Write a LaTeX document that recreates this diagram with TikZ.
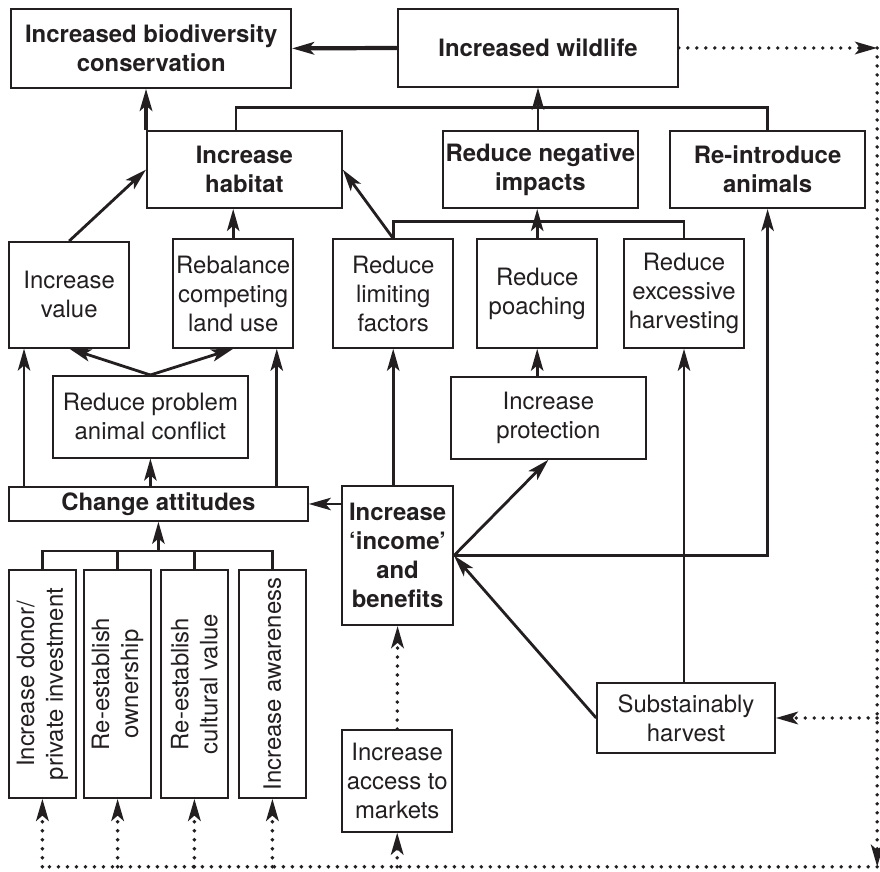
\documentclass[tikz,border=0pt]{standalone}
\usepackage{fontspec}
\setmainfont{TeX Gyre Heros}
\usetikzlibrary{arrows.meta,calc}
\definecolor{CdInk}{RGB}{35,31,32}
\tikzset{
  cd/box/.style={
    draw=CdInk,
    line width=1.1pt,
    fill=white,
    align=center,
    text=CdInk,
    inner sep=2pt,
    font=\fontsize{17}{20.6}\selectfont
  },
  cd/goal/.style={cd/box, font=\fontsize{17}{20.6}\selectfont\bfseries},
  cd/upright/.style={cd/box, rotate=90, minimum width=5.7cm, minimum height=1.68cm},
  cd/arrow/.style={-{Stealth[length=5.5mm,width=3.1mm,inset=1.3mm]}, line width=2pt, draw=CdInk},
  cd/bigarrow/.style={cd/arrow, line width=3pt},
  cd/line/.style={line width=2pt, draw=CdInk},
  cd/dotline/.style={line width=2.8pt, draw=CdInk, line cap=round, dash pattern=on 0pt off 6.4pt},
  cd/dotarrow/.style={cd/dotline, -{Stealth[length=5.5mm,width=3.1mm,inset=1.3mm]}}
}
\begin{document}
\begin{tikzpicture}[x=1cm,y=1cm]
  \useasboundingbox (0,0) rectangle (22,21.8);
  % goals
  \node[cd/goal,minimum width=7cm,minimum height=1.98cm] (biod) at (3.78,20.59) {Increased biodiversity\\conservation};
  \node[cd/goal,minimum width=7cm,minimum height=1.95cm] (wildlife) at (13.45,20.6) {Increased wildlife};
  \node[cd/goal,minimum width=4.88cm,minimum height=1.93cm] (habitat) at (6.11,17.56) {Increase\\habitat};
  \node[cd/goal,minimum width=4.88cm,minimum height=1.93cm] (negimp) at (13.51,17.56) {Reduce negative\\impacts};
  \node[cd/goal,minimum width=4.88cm,minimum height=1.93cm] (reintro) at (19.19,17.56) {Re-introduce\\animals};
  % second row
  \node[cd/box,minimum width=3cm,minimum height=2.65cm] (value) at (1.73,14.43) {Increase\\value};
  \node[cd/box,minimum width=3cm,minimum height=2.72cm] (rebal) at (5.83,14.46) {Rebalance\\competing\\land use};
  \node[cd/box,minimum width=3cm,minimum height=2.72cm] (limit) at (9.83,14.46) {Reduce\\limiting\\factors};
  \node[cd/box,minimum width=3cm,minimum height=2.72cm] (poach) at (13.43,14.46) {Reduce\\poaching};
  \node[cd/box,minimum width=3cm,minimum height=2.72cm] (excess) at (17.1,14.46) {Reduce\\excessive\\harvesting};
  \node[cd/box,minimum width=4.88cm,minimum height=2.05cm] (conflict) at (3.76,11.38) {Reduce problem\\animal conflict};
  \node[cd/box,minimum width=4.88cm,minimum height=2.05cm] (protect) at (13.71,11.35) {Increase\\protection};
  \node[cd/goal,minimum width=7.48cm,minimum height=0.85cm] (attitude) at (3.96,9.2) {Change attitudes};
  \node[cd/goal,minimum width=2.78cm,minimum height=3.48cm] (income) at (9.94,7.91) {Increase\\‘income’\\and\\benefits};
  % drivers
  \node[cd/upright] (donor) at (1.06,4.7) {Increase donor/\\private investment};
  \node[cd/upright] (owner) at (2.94,4.7) {Re-establish\\ownership};
  \node[cd/upright] (culture) at (4.86,4.7) {Re-establish\\cultural value};
  \node[cd/upright] (aware) at (6.81,4.7) {Increase awareness};
  \node[cd/box,minimum width=4.45cm,minimum height=1.75cm] (sustain) at (17.15,3.85) {Substainably\\harvest};
  \node[cd/box,minimum width=2.75cm,minimum height=2.55cm] (access) at (9.93,2.28) {Increase\\access to\\markets};

  % top links
  \draw[cd/bigarrow] (wildlife.west) -- (biod.east);
  \draw[cd/bigarrow] (habitat.north west) -- (habitat.north west |- biod.south);
  \draw[cd/line] ($(habitat.north)+(-0.21,0)$) -- ++(0,0.575) -| (reintro.north);
  \draw[cd/arrow] (wildlife.south |- negimp.north) -- (wildlife.south);
  \draw[cd/arrow] (value.north) -- (habitat.west);
  \draw[cd/arrow] (rebal.north) -- (rebal.north |- habitat.south);
  \draw[cd/arrow] (limit.north) -- (habitat.east);
  \draw[cd/line] (limit.north) -- ++(0,0.425) -| (excess.north);
  \draw[cd/arrow] (poach.north) -- (poach.north |- negimp.south);

  % middle links
  \coordinate (attL) at ($(attitude.north west)+(0.4,0)$);
  \coordinate (attR) at ($(attitude.north east)+(-0.8,0)$);
  \draw[cd/arrow] (conflict.north) -- (value.south);
  \draw[cd/arrow] (conflict.north) -- (rebal.south);
  \draw[cd/arrow] (attL) -- (attL |- value.south);
  \draw[cd/arrow] (attR) -- (attR |- rebal.south);
  \draw[cd/arrow] (attitude.north -| conflict.south) -- (conflict.south);
  \draw[cd/arrow] (attitude.east -| income.west) -- (attitude.east);
  \draw[cd/arrow] (income.north -| limit.south) -- (limit.south);
  \draw[cd/arrow] (income.east) -- (protect.south);
  \draw[cd/arrow] (protect.north -| poach.south) -- (poach.south);
  \draw[cd/arrow] (income.east) -| (reintro.south);
  \draw[cd/arrow] (sustain.west) -- (income.east);
  \draw[cd/arrow] (sustain.north -| excess.south) -- (excess.south);

  % drivers bus
  \coordinate (vbus) at (0,8.025);
  \draw[cd/line] (donor.east) |- (vbus -| aware.east) -- (aware.east);
  \draw[cd/line] (owner.east) -- (owner.east |- vbus);
  \draw[cd/line] (culture.east) -- (culture.east |- vbus);
  \draw[cd/arrow] (attitude.south |- vbus) -- (attitude.south);

  % feedback loop
  \coordinate (ne) at (21.93,20.6);
  \coordinate (se) at (21.93,0.13);
  \draw[cd/dotarrow] (wildlife.east) -- (ne);
  \draw[cd/dotarrow] (ne) -- (se);
  \draw[cd/dotline] (se) -- (se -| donor.west);
  \foreach \n in {donor,owner,culture,aware}
    \draw[cd/dotarrow] (se -| \n.west) -- (\n.west);
  \draw[cd/dotarrow] (se -| access.south) -- (access.south);
  \draw[cd/dotarrow] (access.north) -- (income.south);
  \draw[cd/dotarrow] (sustain.east -| se) -- (sustain.east);
\end{tikzpicture}
\end{document}
